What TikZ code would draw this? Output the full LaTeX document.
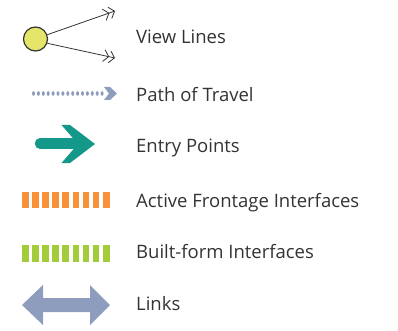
\documentclass[tikz,border=0pt]{standalone}
\usepackage{fontspec}
\setmainfont{Open Sans}
\usetikzlibrary{arrows.meta, positioning}

\definecolor{eyefill}{HTML}{E5E56A}
\definecolor{travelblue}{HTML}{8E9DBD}
\definecolor{entryteal}{HTML}{13988A}
\definecolor{activeorange}{HTML}{F7923A}
\definecolor{builtgreen}{HTML}{A3CC3B}
\definecolor{labelgrey}{HTML}{333333}

\tikzset{
  legendtext/.style={anchor=base west, inner sep=0pt, text=labelgrey,
    font=\fontsize{18.5}{22}\selectfont},
  viewline/.style={draw=black!80, line width=0.8pt,
    -{Straight Barb[length=5pt,width=12pt,line width=0.8pt]Straight Barb[length=5pt,width=12pt,line width=0.8pt]}},
}

\begin{document}
\begin{tikzpicture}[x=1pt, y=-1pt]
    \useasboundingbox (0,0) rectangle (398,331);

    % View Lines
    \node[circle, draw=black!80, line width=1.2pt, fill=eyefill,
      minimum size=24pt, inner sep=0pt] (eye) at (35.5,39) {};
    \coordinate (viewtop) at (115,11);
    \coordinate (viewbot) at (115,58);
    \draw[viewline] (eye.20) -- (viewtop);
    \draw[viewline] (eye.-20) -- (viewbot);
    \node[legendtext] (lblview) at (136,43.5) {View Lines};

    % Path of Travel
    \foreach \i in {0,...,14}
      \fill[travelblue] (33.5+4.9*\i,93.5) ellipse (1.5pt and 2.3pt);
    \fill[travelblue] (104,87) -- (110,87) -- (117,93.5) -- (110,100)
      -- (104,100) -- (109,93.5) -- cycle;
    \node[legendtext] (lbltravel) at (136,101.5) {Path of Travel};

    % Entry Points
    \draw[entryteal, line width=10.5pt, line cap=round] (40,143.5) -- (82,143.5);
    \fill[entryteal] (61.5,125) -- (70,125) -- (95,144) -- (70,163)
      -- (61.5,163) -- (78,144) -- cycle;
    \node[legendtext] (lblentry) at (136,152.5) {Entry Points};

    % Active Frontage Interfaces
    \foreach \i in {0,...,8}
      \fill[activeorange] (22+10.1*\i,192) rectangle ++(6.7,16);
    \node[legendtext] (lblactive) at (136,207) {Active Frontage Interfaces};

    % Built-form Interfaces
    \foreach \i in {0,...,8}
      \fill[builtgreen] (22+10.1*\i,245) rectangle ++(6.7,17);
    \node[legendtext] (lblbuilt) at (136,258.5) {Built-form Interfaces};

    % Links
    \fill[travelblue] (22,305) -- (43,285) -- (43,298) -- (90,298) -- (90,285)
      -- (110,305) -- (90,325) -- (90,312) -- (43,312) -- (43,325) -- cycle;
    \node[legendtext] (lbllinks) at (136,310.5) {Links};
\end{tikzpicture}
\end{document}
